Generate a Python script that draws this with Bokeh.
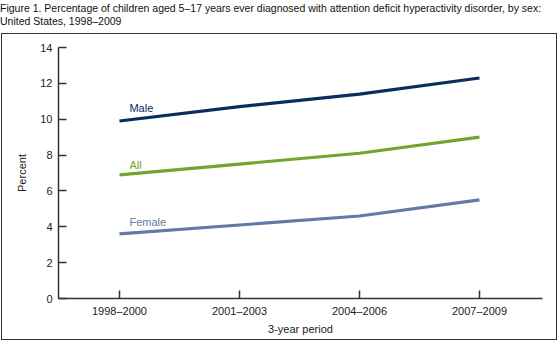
from bokeh.plotting import figure
from bokeh.embed import file_html
from bokeh.resources import INLINE
from bokeh.models import Range1d, FixedTicker, Div
from bokeh.layouts import column
from bokeh.core.properties import value

periods = ["1998–2000", "2001–2003", "2004–2006", "2007–2009"]
series_names = ["Male", "All", "Female"]
male = [9.9, 10.7, 11.4, 12.3]
all_ = [6.9, 7.5, 8.1, 9.0]
female = [3.6, 4.1, 4.6, 5.5]
label_y = [10.6, 7.47, 4.29]
colors = ["#0b2d5e", "#72a52f", "#6479a8"]
y_ticks = [0, 2, 4, 6, 8, 10, 12, 14]
title_lines = ["Figure 1. Percentage of children aged 5–17 years ever diagnosed with attention deficit hyperactivity disorder, by sex:",
               "United States, 1998–2009"]

FONT = "Liberation Sans"

p = figure(width=556, height=307, output_backend="svg", toolbar_location=None,
           x_range=Range1d(-0.508, 3.525), y_range=Range1d(0, 14),
           min_border_left=56, min_border_right=16, min_border_top=13, min_border_bottom=43,
           styles={"border": "1px solid #333333", "margin-left": "1px"})
p.outline_line_color = None
p.xgrid.grid_line_color = None
p.ygrid.grid_line_color = None
p.background_fill_color = "white"
p.border_fill_color = "white"

xs = list(range(len(periods)))
for vals, c in zip([male, all_, female], colors):
    p.line(xs, vals, line_color=c, line_width=3.2)

p.text(x=[0.083] * 3, y=label_y, text=series_names, text_color=colors,
       text_font=value(FONT), text_font_size="11px", text_baseline="middle")

for ax in [p.xaxis[0], p.yaxis[0]]:
    ax.major_tick_in = 8
    ax.major_tick_out = 0
    ax.minor_tick_line_color = None
    ax.axis_line_color = "#333333"
    ax.major_tick_line_color = "#333333"
    ax.axis_line_width = 1.5
    ax.major_tick_line_width = 1.5
    ax.major_label_text_font = FONT
    ax.major_label_text_font_size = "11px"
    ax.major_label_text_color = "#222222"
    ax.axis_label_text_font = FONT
    ax.axis_label_text_font_size = "11px"
    ax.axis_label_text_font_style = "normal"
    ax.axis_label_text_color = "#222222"

p.xaxis.ticker = FixedTicker(ticks=xs)
p.xaxis.major_label_overrides = {i: s for i, s in enumerate(periods)}
p.xaxis.axis_label = "3-year period"
p.xaxis.major_label_standoff = 6
p.xaxis.axis_label_standoff = 3

p.yaxis.ticker = FixedTicker(ticks=y_ticks)
p.yaxis.axis_label = "Percent"
p.yaxis.major_label_standoff = 6
p.yaxis.axis_label_standoff = 9

title = Div(text="<br>".join(title_lines), width=560, height=33,
            styles={"font-family": FONT, "font-size": "10.5px", "line-height": "13px",
                    "color": "#111111", "margin-top": "0px", "margin-left": "1px",
                    "white-space": "nowrap", "overflow": "hidden"},
            stylesheets=[":host { margin: 0 !important; padding-top: 2px; } div, p { margin: 0 !important; padding: 0 !important; }"])

layout = column(title, p, spacing=0, styles={"gap": "0px"})
open("out.html", "w").write(file_html(layout, INLINE))
